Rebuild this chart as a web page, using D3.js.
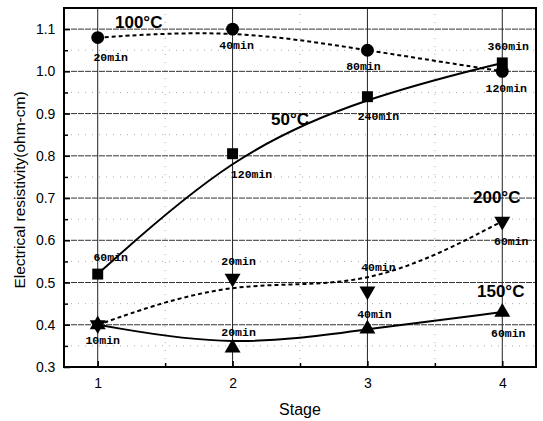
<!DOCTYPE html>
<html>
<head>
<meta charset="utf-8">
<script src="https://cdn.jsdelivr.net/npm/d3@7"></script>
<style>
  body { margin: 0; background: #fff; }
  svg { display: block; }
</style>
</head>
<body>
<svg width="543" height="421"></svg>
<script>
var svg = d3.select("svg");

// stages on x axis
var stages = [1, 2, 3, 4];
var yTicks = [0.3, 0.4, 0.5, 0.6, 0.7, 0.8, 0.9, 1.0, 1.1];

// resistivity values per temperature
var t100 = [1.08, 1.10, 1.05, 1.00];
var t50 = [0.52, 0.805, 0.94, 1.02];
var t200 = [0.40, 0.51, 0.48, 0.645];
var t150 = [0.40, 0.345, 0.39, 0.43];

// time labels for each point ("" = no label)
var lab100 = ["20min", "40min", "80min", "120min"];
var lab50 = ["60min", "120min", "240min", "360min"];
var lab200 = ["", "20min", "40min", "60min"];
var lab150 = ["10min", "20min", "40min", "60min"];

// label offsets (dx, dy) from the point, kept apart from the data
var off100 = [[13, 23], [4, 20], [-4, 20], [4, 21]];
var off50 = [[13, -13], [19, 24], [11, 23], [6, -13]];
var off200 = [[0, 0], [6, -13], [11, -20], [9, 24]];
var off150 = [[5, 19], [6, -12], [7, -11], [6, 25]];

var margin = {left: 64, right: 7, top: 8, bottom: 54};
var W = 543, H = 421;

var x = d3.scaleLinear().domain([0.75, 4.25]).range([margin.left, W - margin.right]);
var y = d3.scaleLinear().domain([0.3, 1.15]).range([H - margin.bottom, margin.top]);

// grid
var minorY = d3.range(0.35, 1.15, 0.1);
svg.append("g").selectAll("line").data(minorY).join("line")
  .attr("x1", x(0.75)).attr("x2", x(4.25))
  .attr("y1", d => y(d)).attr("y2", d => y(d))
  .attr("stroke", "#aaa").attr("stroke-width", 1).attr("stroke-dasharray", "1,6");
svg.append("g").selectAll("line").data([1.5, 2.5, 3.5]).join("line")
  .attr("x1", d => x(d)).attr("x2", d => x(d))
  .attr("y1", y(0.3)).attr("y2", y(1.15))
  .attr("stroke", "#aaa").attr("stroke-width", 1).attr("stroke-dasharray", "1,7");
svg.append("g").selectAll("line").data(yTicks.slice(1)).join("line")
  .attr("x1", x(0.75)).attr("x2", x(4.25))
  .attr("y1", d => y(d)).attr("y2", d => y(d))
  .attr("stroke", "#333").attr("stroke-width", 1).attr("stroke-dasharray", "6,1");
svg.append("g").selectAll("line").data(stages).join("line")
  .attr("x1", d => x(d)).attr("x2", d => x(d))
  .attr("y1", y(0.3)).attr("y2", y(1.15))
  .attr("stroke", "#222").attr("stroke-width", 1);

// axes
var xAxis = d3.axisBottom(x).tickValues(stages).tickSize(-6).tickFormat(d3.format("d"));
var gx = svg.append("g").attr("transform", "translate(0," + y(0.3) + ")").call(xAxis);
gx.select(".domain").remove();
gx.selectAll("text").attr("dy", "1.3em");
svg.append("g").attr("transform", "translate(0," + y(0.3) + ")")
  .call(d3.axisBottom(x).tickValues([1.5, 2.5, 3.5]).tickSize(-4).tickFormat(""))
  .select(".domain").remove();

var yAxis = d3.axisLeft(y).tickValues(yTicks).tickSize(-6).tickFormat(d3.format(".1f"));
var gy = svg.append("g").attr("transform", "translate(" + x(0.75) + ",0)").call(yAxis);
gy.select(".domain").remove();
gy.selectAll("text").attr("dx", "-0.4em");
svg.append("g").attr("transform", "translate(" + x(0.75) + ",0)")
  .call(d3.axisLeft(y).tickValues(minorY).tickSize(-4).tickFormat(""))
  .select(".domain").remove();

svg.selectAll(".tick text").attr("font-family", "Liberation Sans, Arial, sans-serif")
  .attr("font-size", 14).attr("fill", "#000");
svg.selectAll(".tick line").attr("stroke", "#000").attr("stroke-width", 1.5);

// frame
svg.append("rect")
  .attr("x", x(0.75)).attr("y", y(1.15))
  .attr("width", x(4.25) - x(0.75)).attr("height", y(0.3) - y(1.15))
  .attr("fill", "none").attr("stroke", "#000").attr("stroke-width", 2);

// axis titles
svg.append("text").attr("x", x(2.5)).attr("y", 415)
  .attr("text-anchor", "middle").attr("font-family", "Liberation Sans, Arial, sans-serif")
  .attr("font-size", 16).text("Stage");
svg.append("text")
  .attr("transform", "translate(25,190) rotate(-90)")
  .attr("text-anchor", "middle").attr("font-family", "Liberation Sans, Arial, sans-serif")
  .attr("font-size", 15.5).text("Electrical resistivity(ohm-cm)");

// series
var series = [
  {vals: t100, labs: lab100, offs: off100, dash: "4,3", sym: d3.symbolCircle, size: 130, rot: 0, name: "100°C", nx: 115, ny: 28},
  {vals: t50, labs: lab50, offs: off50, dash: null, sym: d3.symbolSquare, size: 120, rot: 0, name: "50°C", nx: 271, ny: 125},
  {vals: t200, labs: lab200, offs: off200, dash: "4,3", sym: d3.symbolTriangle, size: 110, rot: 180, name: "200°C", nx: 473, ny: 203},
  {vals: t150, labs: lab150, offs: off150, dash: null, sym: d3.symbolTriangle, size: 110, rot: 0, name: "150°C", nx: 477, ny: 297}
];

var line = d3.line().curve(d3.curveBasis)
  .x((d, i) => x(stages[i])).y(d => y(d));

series.forEach(function(s){
  svg.append("path").datum(s.vals)
    .attr("d", line).attr("fill", "none")
    .attr("stroke", "#000").attr("stroke-width", 2)
    .attr("stroke-dasharray", s.dash);

  svg.append("g").selectAll("path").data(s.vals).join("path")
    .attr("d", d3.symbol().type(s.sym).size(s.size))
    .attr("transform", (d, i) => "translate(" + x(stages[i]) + "," + y(d) + ") rotate(" + s.rot + ")")
    .attr("fill", "#000");

  svg.append("g").selectAll("text").data(s.vals).join("text")
    .attr("x", (d, i) => x(stages[i]) + s.offs[i][0])
    .attr("y", (d, i) => y(d) + s.offs[i][1])
    .attr("text-anchor", "middle")
    .attr("font-family", "Liberation Mono, Courier New, monospace")
    .attr("font-weight", "bold").attr("font-size", 11.5)
    .text((d, i) => s.labs[i]);

  svg.append("text").attr("x", s.nx).attr("y", s.ny)
    .attr("font-family", "Liberation Sans, Arial, sans-serif")
    .attr("font-weight", "bold").attr("font-size", 17)
    .text(s.name);
});
</script>
</body>
</html>
